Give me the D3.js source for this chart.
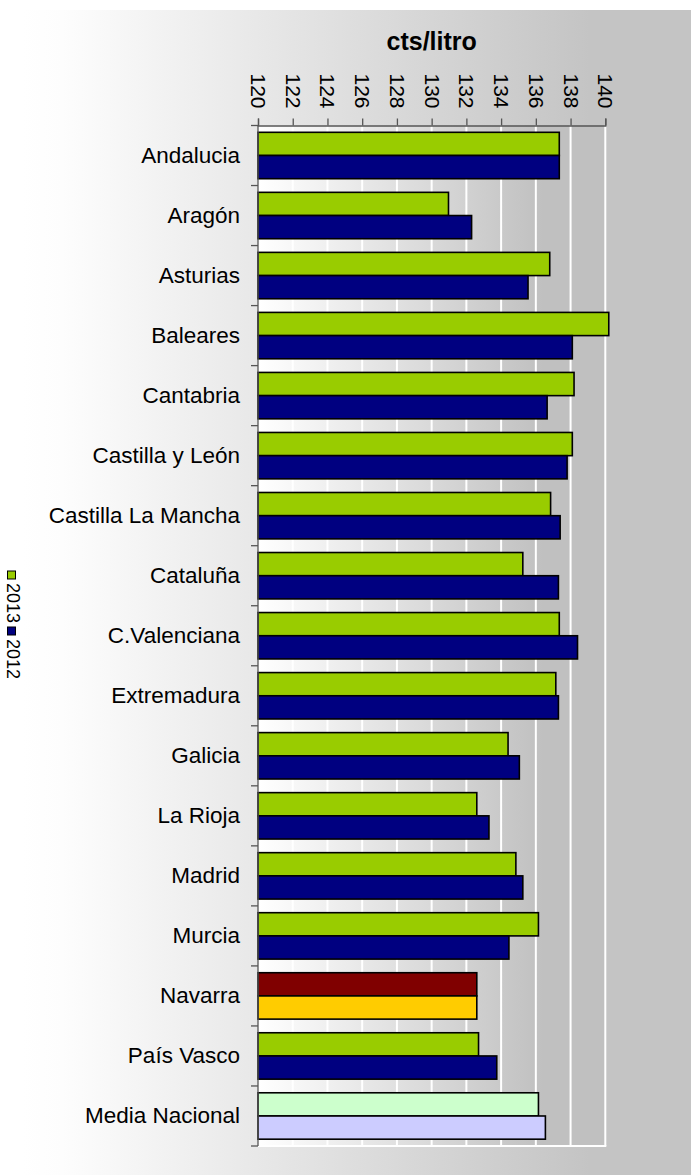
<!DOCTYPE html>
<html><head><meta charset="utf-8">
<script src="https://cdn.jsdelivr.net/npm/d3@7"></script>
<style>body{margin:0;background:#fff}svg{display:block;font-family:"Liberation Sans",Arial,sans-serif}</style>
</head><body><div id="chart"></div>
<script>
const categories = ["Andalucia","Aragón","Asturias","Baleares","Cantabria","Castilla y León","Castilla La Mancha","Cataluña","C.Valenciana","Extremadura","Galicia","La Rioja","Madrid","Murcia","Navarra","País Vasco ","Media Nacional"];
const series = ["2013","2012"];
const values2013 = [137.35,130.97,136.8,140.2,138.2,138.1,136.85,135.25,137.35,137.15,134.4,132.6,134.85,136.15,132.6,132.7,136.15];
const values2012 = [137.35,132.3,135.55,138.1,136.65,137.8,137.4,137.3,138.4,137.3,135.05,133.3,135.25,134.45,132.6,133.75,136.55];
const tickValues = [120,122,124,126,128,130,132,134,136,138,140];
const axisTitle = "cts/litro";

(function(){
const W = 700, H = 1175;
const seriesColor = {"2013":"#99cc00","2012":"#000080"};
const specialColor = {
  "Navarra": {"2013":"#800000","2012":"#ffcc00"},
  "Media Nacional": {"2013":"#ccffcc","2012":"#ccccff"}
};

const svg = d3.select("#chart").append("svg").attr("width", W).attr("height", H);
const defs = svg.append("defs");
const g1 = defs.append("linearGradient").attr("id","outerGrad").attr("gradientUnits","userSpaceOnUse")
  .attr("x1",22).attr("x2",690).attr("y1",0).attr("y2",0);
g1.append("stop").attr("offset","0").attr("stop-color","#ffffff");
g1.append("stop").attr("offset","0.06").attr("stop-color","#fdfdfd");
g1.append("stop").attr("offset","0.85").attr("stop-color","#c4c4c4");
g1.append("stop").attr("offset","1").attr("stop-color","#c4c4c4");

const x = d3.scaleLinear().domain([120,140]).range([258,605.3]);
const pIn = 0.227;
const y = d3.scaleBand().domain(categories).range([125.5,1146]).paddingInner(pIn).paddingOuter(pIn/2);
const ys = d3.scaleBand().domain(series).range([0,y.bandwidth()]);

const g2 = defs.append("linearGradient").attr("id","plotGrad").attr("gradientUnits","userSpaceOnUse")
  .attr("x1",x(120)).attr("x2",x(140)).attr("y1",0).attr("y2",0);
g2.append("stop").attr("offset","0").attr("stop-color","#ffffff");
g2.append("stop").attr("offset","0.82").attr("stop-color","#c0c0c0");
g2.append("stop").attr("offset","1").attr("stop-color","#c0c0c0");

svg.append("rect").attr("x",22).attr("y",10).attr("width",669).attr("height",H-10).attr("fill","url(#outerGrad)");

const yTop = y.range()[0], yBot = y.range()[1];
svg.append("rect").attr("x",x(120)).attr("y",yTop).attr("width",x(140)-x(120)).attr("height",yBot-yTop).attr("fill","url(#plotGrad)");

// gridlines
svg.append("g").selectAll("line").data(tickValues.slice(1)).join("line")
  .attr("x1",d=>x(d)).attr("x2",d=>x(d)).attr("y1",yTop).attr("y2",yBot)
  .attr("stroke","#ffffff").attr("stroke-width",2);
svg.append("line").attr("x1",x(120)).attr("x2",x(140)+1).attr("y1",yBot).attr("y2",yBot)
  .attr("stroke","#ffffff").attr("stroke-width",2);

// bars
const rows = categories.map((c,i)=>({cat:c, vals:{"2013":values2013[i],"2012":values2012[i]}}));
const colorFor = (cat,s) => (specialColor[cat] ? specialColor[cat][s] : seriesColor[s]);
const grp = svg.append("g").selectAll("g").data(rows).join("g")
  .attr("transform",d=>`translate(0,${y(d.cat)})`);
grp.selectAll("rect").data(d=>series.map(s=>({cat:d.cat,s,v:d.vals[s]}))).join("rect")
  .attr("x",x(120)).attr("y",d=>ys(d.s)).attr("width",d=>x(d.v)-x(120)).attr("height",ys.bandwidth())
  .attr("fill",d=>colorFor(d.cat,d.s)).attr("stroke","#000").attr("stroke-width",1.6);

// left axis with ticks between categories
const boundaries = categories.map(c=>y(c)-(y.step()-y.bandwidth())/2).concat([yBot]);
const la = svg.append("g");
la.append("line").attr("x1",x(120)).attr("x2",x(120)).attr("y1",yTop).attr("y2",yBot).attr("stroke","#555").attr("stroke-width",1.3);
la.selectAll("line.t").data(boundaries).join("line").attr("class","t")
  .attr("x1",x(120)-7).attr("x2",x(120)).attr("y1",d=>d).attr("y2",d=>d).attr("stroke","#555").attr("stroke-width",1.3);
la.selectAll("text").data(categories).join("text")
  .attr("x",240).attr("y",d=>y(d)+y.bandwidth()/2).attr("text-anchor","end").attr("dominant-baseline","central")
  .attr("font-size",22.5).attr("fill","#000").text(d=>d);

// top axis
const ta = svg.append("g").attr("transform",`translate(0,${yTop})`)
  .call(d3.axisTop(x).tickValues(tickValues).tickSize(7).tickFormat(d3.format("d")));
ta.select(".domain").attr("stroke","#555").attr("stroke-width",1.3);
ta.selectAll(".tick line").attr("stroke","#555").attr("stroke-width",1.3);
ta.selectAll(".tick text").attr("font-size",21).attr("fill","#000").attr("font-family","Liberation Sans, Arial, sans-serif")
  .attr("x",0).attr("y",0).attr("dy",null)
  .attr("transform","translate(0,-17) rotate(90)")
  .attr("text-anchor","end").attr("dominant-baseline","central");

// title
svg.append("text").attr("x",(x(120)+x(140))/2).attr("y",50).attr("text-anchor","middle")
  .attr("font-size",25).attr("font-weight","bold").text(axisTitle);

// legend (rotated)
const lg = svg.append("g");
let ly = 571;
series.forEach(s=>{
  lg.append("rect").attr("x",7.5).attr("y",ly).attr("width",8).attr("height",8)
    .attr("fill",seriesColor[s]).attr("stroke","#000").attr("stroke-width",1);
  lg.append("text").attr("transform",`translate(12.5,${ly+12}) rotate(90)`)
    .attr("text-anchor","start").attr("dominant-baseline","central").attr("font-size",18).text(s);
  ly += 56;
});
})();
</script></body></html>
